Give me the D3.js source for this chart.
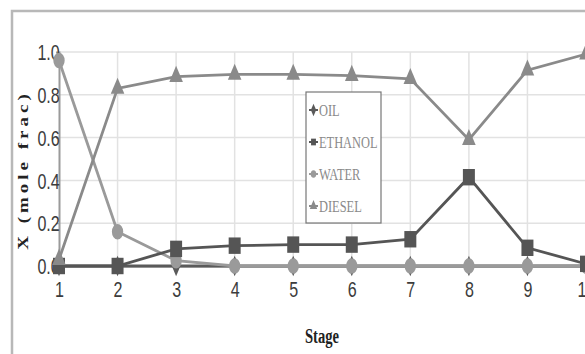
<!DOCTYPE html>
<html>
<head>
<meta charset="utf-8">
<script src="https://cdn.jsdelivr.net/npm/d3@7"></script>
<style>
  body { margin: 0; background: #fff; }
  svg { display: block; }
</style>
</head>
<body>
<svg width="585" height="354"></svg>
<script>
const stages = [1, 2, 3, 4, 5, 6, 7, 8, 9, 10];
const yTicks = [0, 0.2, 0.4, 0.6, 0.8, 1.0];
const oil     = [0, 0, 0, 0, 0, 0, 0, 0, 0, 0];
const ethanol = [0, 0, 0.08, 0.095, 0.1, 0.1, 0.125, 0.415, 0.085, 0.01];
const water   = [0.96, 0.16, 0.025, 0, 0, 0, 0, 0, 0, 0];
const diesel  = [0.03, 0.83, 0.885, 0.895, 0.895, 0.89, 0.875, 0.59, 0.915, 0.99];
const seriesNames = ["OIL", "ETHANOL", "WATER", "DIESEL"];

const SX = 0.73; // the picture is squeezed sideways

const svg = d3.select("svg");

const x = d3.scaleLinear().domain([1, 10]).range([59, 586]);
const y = d3.scaleLinear().domain([0, 1]).range([266, 52]);

// outer frame
svg.append("rect")
    .attr("x", 12).attr("y", 11)
    .attr("width", 620).attr("height", 400)
    .attr("fill", "none")
    .attr("stroke", "#b8b8b8")
    .attr("stroke-width", 2.5);

// grid
svg.append("g")
    .selectAll("line")
    .data(yTicks.slice(1))
    .join("line")
    .attr("x1", 59).attr("x2", 585)
    .attr("y1", d => y(d)).attr("y2", d => y(d))
    .attr("stroke", "#e2e2e2").attr("stroke-width", 1.5);
svg.append("g")
    .selectAll("line")
    .data(stages.slice(1))
    .join("line")
    .attr("x1", d => x(d)).attr("x2", d => x(d))
    .attr("y1", 52).attr("y2", 266)
    .attr("stroke", "#e2e2e2").attr("stroke-width", 1.5);

// axes
const yAxis = svg.append("g")
    .attr("transform", "translate(59,0)")
    .call(d3.axisLeft(y).tickValues(yTicks).tickFormat(d3.format(".1f")).tickSize(3));
const xAxis = svg.append("g")
    .attr("transform", "translate(0,266)")
    .call(d3.axisBottom(x).tickValues(stages).tickFormat(d3.format("d")).tickSize(0));

[yAxis, xAxis].forEach(a => {
    a.select(".domain").attr("stroke", "#9a9a9a").attr("stroke-width", 2);
    a.selectAll(".tick line").attr("stroke", "#9a9a9a");
    a.selectAll("text")
        .attr("font-family", "Liberation Sans, Arial, sans-serif")
        .attr("font-size", 22)
        .attr("fill", "#3c3c3c");
});
yAxis.selectAll("text").attr("x", 1).attr("dy", "0.35em")
    .attr("transform", `scale(${SX},1)`);
xAxis.selectAll("text").attr("y", 15)
    .attr("transform", `scale(${SX},1)`);

// axis titles
svg.append("text")
    .attr("transform", `translate(28,170) rotate(-90) scale(1,${SX})`)
    .attr("text-anchor", "middle")
    .attr("font-family", "Liberation Serif, serif")
    .attr("font-weight", "bold")
    .attr("font-size", 19)
    .attr("fill", "#222")
    .attr("letter-spacing", 4)
    .text("X (mole frac)");
svg.append("text")
    .attr("transform", `translate(322,343) scale(${SX},1)`)
    .attr("text-anchor", "middle")
    .attr("font-family", "Liberation Serif, serif")
    .attr("font-weight", "bold")
    .attr("font-size", 20)
    .attr("fill", "#222")
    .text("Stage");

// series
const series = [
    { name: "OIL", values: oil, color: "#5a5a5a", sym: d3.symbolDiamond, size: 120 },
    { name: "ETHANOL", values: ethanol, color: "#555555", sym: d3.symbolSquare, size: 270 },
    { name: "WATER", values: water, color: "#9a9a9a", sym: d3.symbolCircle, size: 190 },
    { name: "DIESEL", values: diesel, color: "#8a8a8a", sym: d3.symbolTriangle, size: 150 }
];
const drawOrder = [series[0], series[2], series[1], series[3]];

const line = d3.line()
    .x((d, i) => x(stages[i]))
    .y(d => y(d));

drawOrder.forEach(s => {
    svg.append("path")
        .datum(s.values)
        .attr("fill", "none")
        .attr("stroke", s.color)
        .attr("stroke-width", 2.8)
        .attr("d", line);
    svg.append("g")
        .selectAll("path")
        .data(s.values)
        .join("path")
        .attr("transform", (d, i) => `translate(${x(stages[i])},${y(d)}) scale(${SX},1)`)
        .attr("d", d3.symbol().type(s.sym).size(s.size))
        .attr("fill", s.color);
});

// legend
const lg = svg.append("g");
lg.append("rect")
    .attr("x", 306).attr("y", 92)
    .attr("width", 75).attr("height", 131)
    .attr("fill", "#fff")
    .attr("stroke", "#777")
    .attr("stroke-width", 1.2);
const legendY = d3.scalePoint().domain(seriesNames).range([110, 206]);
series.forEach(s => {
    const ly = legendY(s.name);
    lg.append("line")
        .attr("x1", 309).attr("x2", 318)
        .attr("y1", ly).attr("y2", ly)
        .attr("stroke", s.color).attr("stroke-width", 2);
    lg.append("path")
        .attr("transform", `translate(313.5,${ly}) scale(${SX},1)`)
        .attr("d", d3.symbol().type(s.sym).size(45))
        .attr("fill", s.color);
    lg.append("text")
        .attr("transform", `translate(319,${ly + 6}) scale(${SX},1)`)
        .attr("font-family", "Liberation Serif, serif")
        .attr("font-size", 17)
        .attr("fill", "#8a8a8a")
        .text(s.name);
});
</script>
</body>
</html>
